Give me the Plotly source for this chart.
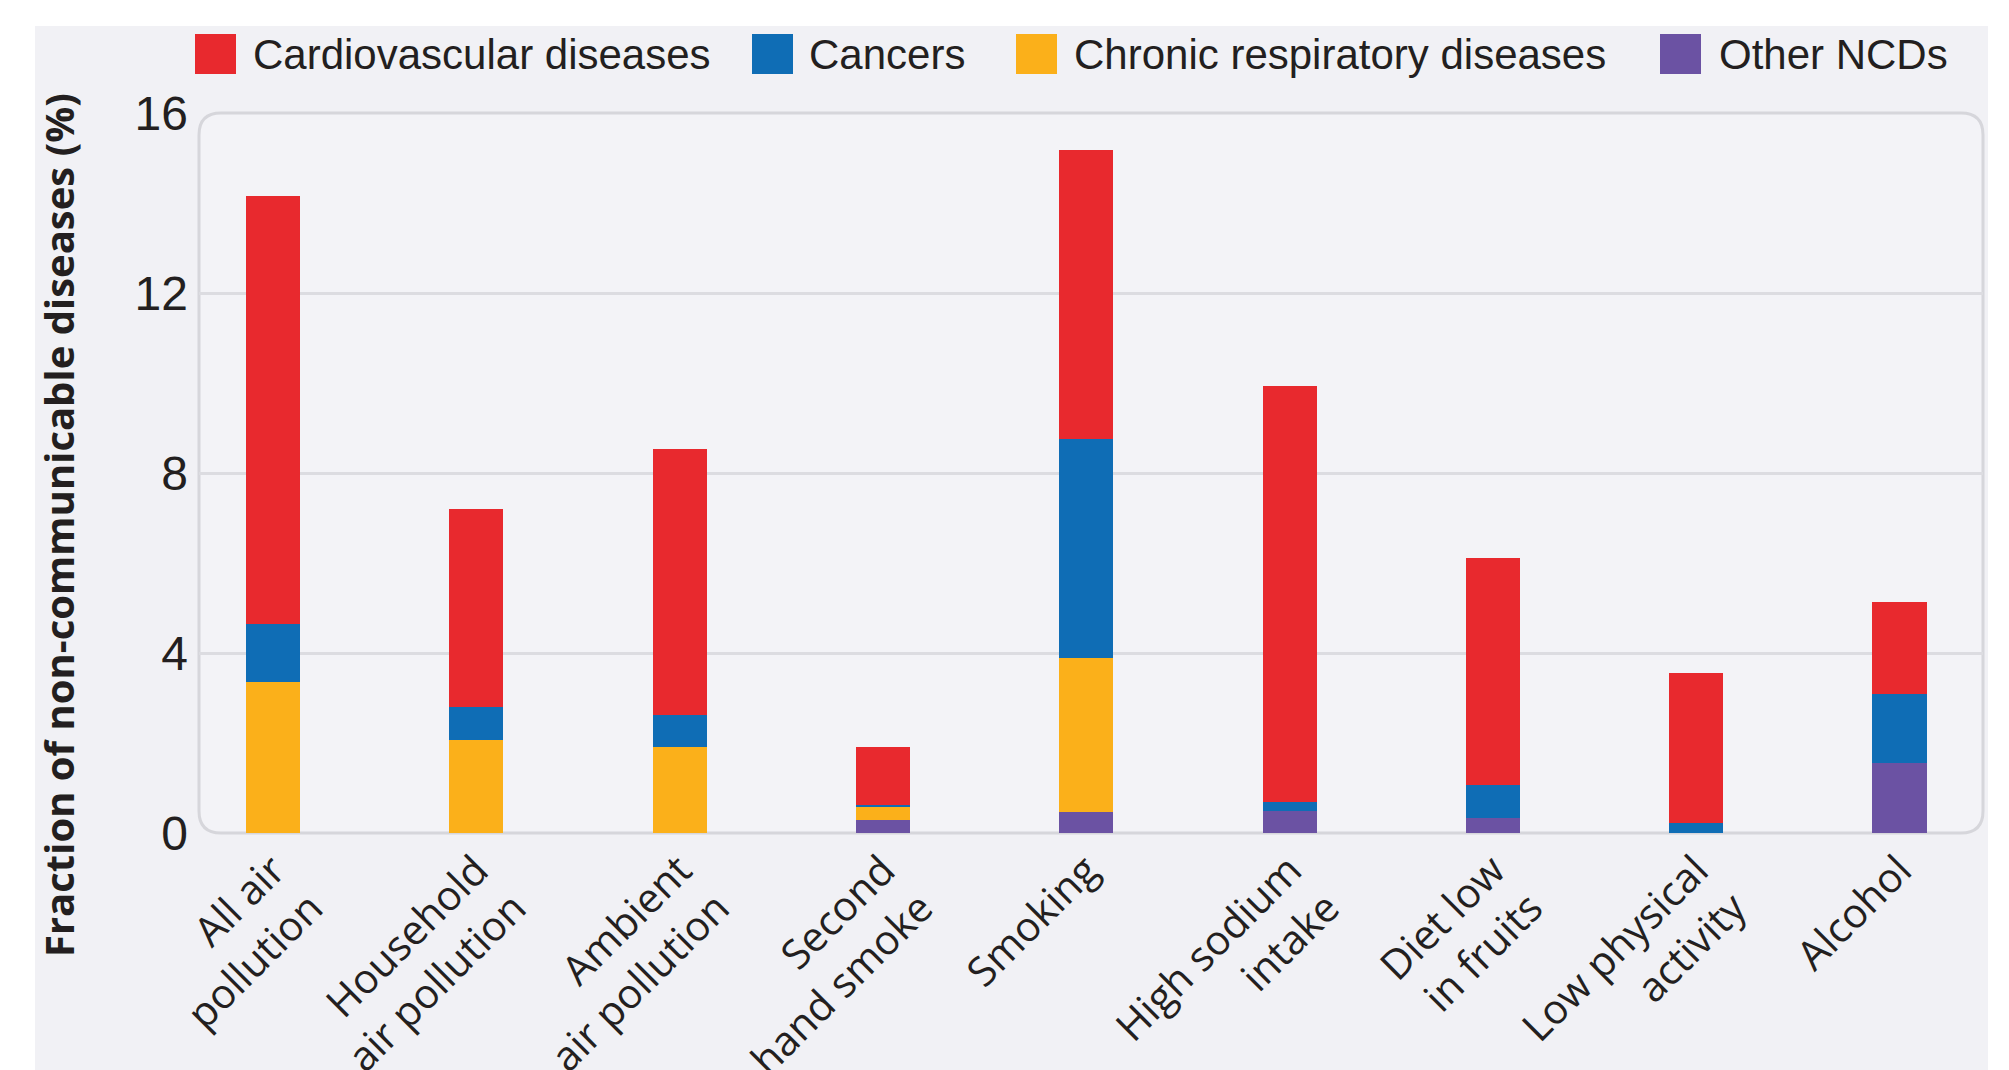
import plotly.graph_objects as go

categories = ["All air<br>pollution", "Household<br>air pollution", "Ambient<br>air pollution",
              "Second<br>hand smoke", "Smoking", "High sodium<br>intake", "Diet low<br>in fruits",
              "Low physical<br>activity", "Alcohol"]
other_ncds = [0.0, 0.0, 0.0, 0.29, 0.47, 0.49, 0.33, 0.0, 1.56]
chronic_resp = [3.35, 2.07, 1.91, 0.28, 3.42, 0.0, 0.0, 0.0, 0.0]
cancers = [1.30, 0.73, 0.71, 0.05, 4.87, 0.20, 0.74, 0.22, 1.53]
cardiovascular = [9.50, 4.40, 5.92, 1.29, 6.42, 9.24, 5.05, 3.33, 2.05]
y_ticks = [0, 4, 8, 12, 16]

series_names = ["Cardiovascular diseases", "Cancers", "Chronic respiratory diseases", "Other NCDs"]
colors = {"Cardiovascular diseases": "#e8292e", "Cancers": "#0f6db5",
          "Chronic respiratory diseases": "#fbb01a", "Other NCDs": "#6b52a3"}
stack = [("Other NCDs", other_ncds), ("Chronic respiratory diseases", chronic_resp),
         ("Cancers", cancers), ("Cardiovascular diseases", cardiovascular)]

TEXT = "#231f20"
FONT = "Open Sans, Liberation Sans, Arial, sans-serif"
NARROW = "Liberation Sans, Arial, sans-serif"

fig = go.Figure()
for name, vals in stack:
    fig.add_trace(go.Bar(x=categories, y=vals, name=name, marker_color=colors[name],
                         marker_line_width=0, width=0.267, showlegend=False))

# pixel geometry of the figure (page adds an 8px body margin)
W, H = 2001, 1062
L, R, T, B = 191, 26, 105, 237
PW, PH = W - L - R, H - T - B

def px(x):
    return (x - L) / PW

def py(y):
    return (H - B - y) / PH

shapes = []
# outer light-gray panel
shapes.append(dict(type="rect", xref="paper", yref="paper", x0=px(27), x1=px(1980), y0=py(1062), y1=py(18),
                   fillcolor="#f1f1f5", line_width=0, layer="below"))
# rounded plot box
rx, ry = 22 / PW, 22 / PH
path = (f"M {rx},0 L {1-rx},0 Q 1,0 1,{ry} L 1,{1-ry} Q 1,1 {1-rx},1 L {rx},1 "
        f"Q 0,1 0,{1-ry} L 0,{ry} Q 0,0 {rx},0 Z")
shapes.append(dict(type="path", xref="paper", yref="paper", path=path,
                   line=dict(color="#d6d6db", width=3), fillcolor="#f3f3f7", layer="below"))

# custom legend (large square swatches)
legend_sq_x = {"Cardiovascular diseases": 187, "Cancers": 744, "Chronic respiratory diseases": 1008, "Other NCDs": 1652}
legend_tx_x = {"Cardiovascular diseases": 243, "Cancers": 799, "Chronic respiratory diseases": 1064, "Other NCDs": 1709}
annotations = []
for name in series_names:
    x0 = legend_sq_x[name]
    shapes.append(dict(type="rect", xref="paper", yref="paper", x0=px(x0), x1=px(x0 + 41),
                       y0=py(66), y1=py(26), fillcolor=colors[name], line_width=0))
    annotations.append(dict(text=name, xref="paper", yref="paper", x=px(legend_tx_x[name]), y=py(46),
                            xanchor="left", yanchor="middle", showarrow=False,
                            font=dict(family=NARROW, size=42, color=TEXT)))

annotations.append(dict(text="<b>Fraction of non-communicable diseases (%)</b>", xref="paper", yref="paper",
                        x=px(50), y=py(517), textangle=-90, xanchor="center", yanchor="middle",
                        showarrow=False, font=dict(family=FONT, size=40, color=TEXT)))

fig.update_layout(
    width=W, height=H,
    barmode="stack",
    margin=dict(l=L, r=R, t=T, b=B, autoexpand=False),
    paper_bgcolor="white",
    plot_bgcolor="rgba(0,0,0,0)",
    shapes=shapes,
    annotations=annotations,
    font=dict(family=FONT, color=TEXT),
)
fig.update_xaxes(range=[-0.364, 8.41], tickangle=-45, showgrid=False, zeroline=False, showline=False,
                 ticks="", ticklabelstandoff=4, tickfont=dict(family=FONT, size=41, color=TEXT),
                 automargin=False)
fig.update_yaxes(range=[0, 16], tickvals=y_ticks, showgrid=True, gridcolor="#dcdce1", gridwidth=3,
                 zeroline=False, showline=False, ticks="", ticklabelstandoff=10,
                 tickfont=dict(family=NARROW, size=48, color=TEXT), automargin=False)

fig.write_html("out.html")
